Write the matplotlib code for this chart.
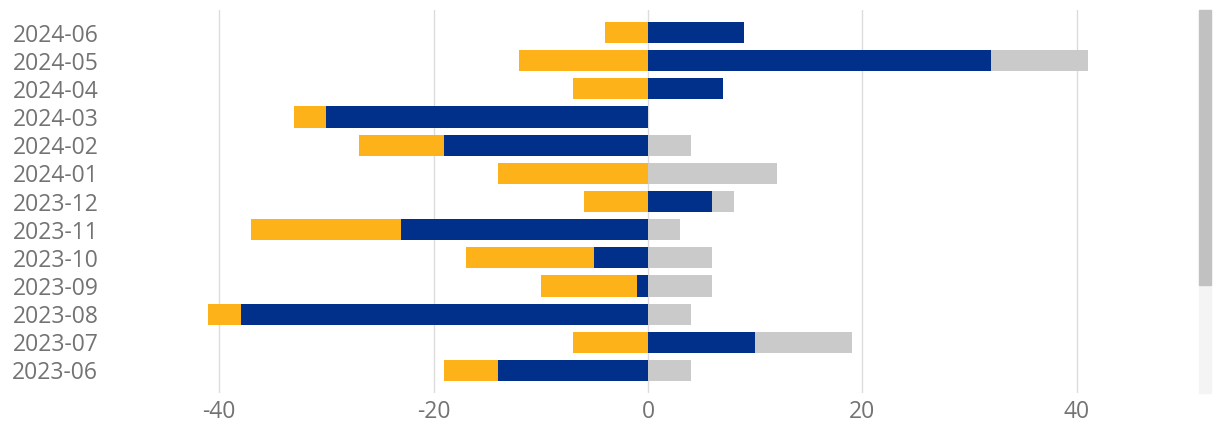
import numpy as np
import matplotlib
matplotlib.use("Agg")
import matplotlib.pyplot as plt
from matplotlib.patches import Rectangle

plt.rcParams['font.family'] = ['Open Sans', 'DejaVu Sans']
plt.rcParams['axes.unicode_minus'] = False

# data, bottom row first
months = ["2023-06", "2023-07", "2023-08", "2023-09", "2023-10", "2023-11", "2023-12",
          "2024-01", "2024-02", "2024-03", "2024-04", "2024-05", "2024-06"]
blue = [-14, 10, -38, -1, -5, -23, 6, 0, -19, -30, 7, 32, 9]
yellow = [-5, -7, -3, -9, -12, -14, -6, -14, -8, -3, -7, -12, -4]
grey = [4, 9, 4, 6, 6, 3, 2, 12, 4, 0, 0, 9, 0]

c_blue = "#00308a"
c_yellow = "#fdb21a"
c_grey = "#cacaca"

W, H = 1214, 425
fig = plt.figure(figsize=(W / 100, H / 100), dpi=100)
ax = fig.add_axes([108 / W, 1 - 393 / H, (1180 - 108) / W, (393 - 10) / H])

y = np.arange(len(months))
b = np.array(blue)
neg_base = np.minimum(b, 0)
pos_base = np.maximum(b, 0)
h = 0.75

ax.barh(y, b, height=h, color=c_blue, zorder=3)
ax.barh(y, yellow, left=neg_base, height=h, color=c_yellow, zorder=3)
ax.barh(y, grey, left=pos_base, height=h, color=c_grey, zorder=3)

ax.set_xlim((108 - 648) / 10.72, (1180 - 648) / 10.72)
ax.set_ylim(-0.8, 12.8)
ax.set_xticks([-40, -20, 0, 20, 40])
ax.set_yticks(y)
ax.set_yticklabels(months)
ax.grid(axis="x", color="#dcdcdc", linewidth=1, zorder=0)
for s in ax.spines.values():
    s.set_visible(False)
ax.tick_params(axis="both", length=0, labelsize=16.5, colors="#737373")
ax.tick_params(axis="y", pad=7)
ax.tick_params(axis="x", pad=5)

# scrollbar on the right
fig.patches.append(Rectangle((1199 / W, 1 - 393 / H), 12 / W, 108 / H,
                             transform=fig.transFigure, color="#f4f4f4"))
fig.patches.append(Rectangle((1199 / W, 1 - 285 / H), 12 / W, 275 / H,
                             transform=fig.transFigure, color="#c1c1c1"))

fig.savefig("out.png", dpi=100)
